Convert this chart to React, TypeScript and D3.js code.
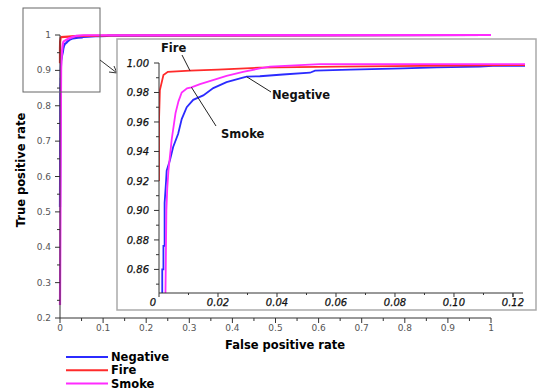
import React from 'react';
import * as d3 from 'd3';

// ROC curves
const negFpr = [0, 0.0011, 0.0011, 0.0015, 0.0015, 0.0019, 0.0019, 0.0024, 0.0026, 0.0037, 0.0048, 0.0065, 0.0077, 0.0094, 0.0116, 0.015, 0.0184, 0.0229, 0.0275, 0.0297, 0.0342, 0.042, 0.0512, 0.0529, 0.065, 0.0827, 0.0942, 0.1088, 0.1132, 1];
const negTpr = [0.514, 0.845, 0.86, 0.86, 0.876, 0.876, 0.905, 0.92, 0.927, 0.934, 0.943, 0.952, 0.962, 0.97, 0.975, 0.978, 0.983, 0.987, 0.9896, 0.9907, 0.991, 0.9922, 0.9934, 0.9948, 0.9955, 0.9964, 0.997, 0.9975, 0.998, 1];
const fireFpr = [0, 0, 0.0003, 0.0015, 0.003, 0.0105, 0.02, 0.034, 0.06, 0.1234, 1];
const fireTpr = [0.92, 0.961, 0.9816, 0.9918, 0.994, 0.9948, 0.9955, 0.9968, 0.9975, 0.9986, 1];
const smokeFpr = [0, 0.0022, 0.0025, 0.0028, 0.0032, 0.0043, 0.0056, 0.0066, 0.0077, 0.0095, 0.011, 0.0139, 0.0183, 0.0229, 0.0285, 0.0342, 0.0376, 0.0546, 0.1234, 1];
const smokeTpr = [0.237, 0.845, 0.9, 0.915, 0.927, 0.948, 0.966, 0.974, 0.98, 0.9828, 0.9835, 0.9857, 0.9884, 0.9912, 0.994, 0.9963, 0.9975, 0.9993, 0.9993, 1];

const seriesNames = ['Negative', 'Fire', 'Smoke'];
const seriesColors = ['#2b2bff', '#ff2b2b', '#ff2bff'];

const mainXTicks = [0, 0.1, 0.2, 0.3, 0.4, 0.5, 0.6, 0.7, 0.8, 0.9, 1];
const mainYTicks = [0.2, 0.3, 0.4, 0.5, 0.6, 0.7, 0.8, 0.9, 1];
const insetXTicks = [0, 0.02, 0.04, 0.06, 0.08, 0.1, 0.12];
const insetXLabels = ['0', '0.02', '0.04', '0.06', '0.08', '0.10', '0.12'];
const insetYTicks = [0.86, 0.88, 0.9, 0.92, 0.94, 0.96, 0.98, 1.0];

const W = 538;
const H = 392;
const bold = { fontFamily: 'DejaVu Sans, sans-serif', fontWeight: 'bold', fontSize: 11.5 };

const App = () => {
  const series = [
    { fpr: negFpr, tpr: negTpr },
    { fpr: fireFpr, tpr: fireTpr },
    { fpr: smokeFpr, tpr: smokeTpr },
  ];

  // main axes
  const x = d3.scaleLinear().domain([0, 1]).range([60, 491]);
  const y = d3.scaleLinear().domain([0.2, 1]).range([318, 35]);
  // inset axes
  const ix = d3.scaleLinear().domain([0, 0.1234]).range([159, 523]);
  const iy = d3.scaleLinear().domain([0.844, 1]).range([293, 63]);

  const mainLine = (s) =>
    d3.line<number>().x((d) => x(d)).y((d, i) => y(s.tpr[i]))(s.fpr);
  const insetLine = (s) =>
    d3.line<number>().x((d) => ix(d)).y((d, i) => iy(s.tpr[i]))(s.fpr);

  const order = [0, 1, 2];
  const minorX = d3.range(0, 1.0001, 0.05);
  const minorY = d3.range(0.2, 1.0001, 0.05);
  const insetMinorX = d3.range(0, 0.1234, 0.01);
  const insetMinorY = d3.range(0.85, 1.0001, 0.01);

  return (
    <div style={{ position: 'absolute', left: 0, top: 0 }}>
      <svg width={W} height={H} style={{ display: 'block', background: '#fff' }}>
        <defs>
          <clipPath id="insetClip">
            <rect x={159} y={60} width={366} height={233} />
          </clipPath>
        </defs>

        {/* main curves */}
        {order.map((k) => (
          <path key={k} d={mainLine(series[k])} fill="none" stroke={seriesColors[k]} strokeWidth={2.2} />
        ))}

        {/* main axes */}
        <g stroke="#333" strokeWidth={1}>
          <line x1={60} x2={60} y1={35} y2={318} />
          <line x1={60} x2={491} y1={318} y2={318} />
          {minorX.map((t, i) => (
            <line key={'mx' + i} x1={x(t)} x2={x(t)} y1={318} y2={i % 2 === 0 ? 323 : 321} />
          ))}
          {minorY.map((t, i) => (
            <line key={'my' + i} x1={60} x2={i % 2 === 0 ? 55 : 57} y1={y(t)} y2={y(t)} />
          ))}
        </g>
        <g fontFamily="DejaVu Sans, sans-serif" fontSize={9} fill="#555">
          {mainXTicks.map((t) => (
            <text key={t} x={x(t)} y={331} textAnchor="middle">{d3.format('~g')(t)}</text>
          ))}
          {mainYTicks.map((t) => (
            <text key={t} x={51} y={y(t) + 3} textAnchor="end">{d3.format('~g')(t)}</text>
          ))}
        </g>
        <text x={285} y={349} textAnchor="middle" {...bold}>False positive rate</text>
        <text transform="translate(25,170) rotate(-90)" textAnchor="middle" {...bold}>True positive rate</text>

        {/* zoom box and arrow */}
        <rect x={23} y={8} width={77} height={84} fill="none" stroke="#666" strokeWidth={1} />
        <g stroke="#333" strokeWidth={1} fill="none">
          <line x1={100} y1={60} x2={117} y2={73} />
          <polyline points="109,72 117,73 114,66" />
        </g>

        {/* inset */}
        <rect x={117} y={39} width={419} height={271} fill="#fff" stroke="#aaa" strokeWidth={1.5} />
        <g clipPath="url(#insetClip)">
          {order.map((k) => (
            <path key={k} d={insetLine(series[k])} fill="none" stroke={seriesColors[k]} strokeWidth={1.8} />
          ))}
        </g>
        <g stroke="#333" strokeWidth={1}>
          <line x1={159} x2={159} y1={63} y2={293} />
          <line x1={159} x2={523} y1={293} y2={293} />
          {insetMinorX.map((t, i) => (
            <line key={'ix' + i} x1={ix(t)} x2={ix(t)} y1={293} y2={i % 2 === 0 ? 297 : 295} />
          ))}
          <line x1={ix(0.12)} x2={ix(0.12)} y1={293} y2={297} />
          {insetMinorY.map((t, i) => (
            <line key={'iy' + i} x1={159} x2={i % 2 === 1 ? 154 : 156} y1={iy(t)} y2={iy(t)} />
          ))}
        </g>
        <g fontFamily="DejaVu Sans, sans-serif" fontStyle="italic" fontSize={10} fill="#111" stroke="#111" strokeWidth={0.25}>
          {insetXTicks.map((t, i) => (
            <text key={t} x={ix(t) - (i === 0 ? 6 : 0)} y={306} textAnchor="middle">{insetXLabels[i]}</text>
          ))}
          {insetYTicks.map((t) => (
            <text key={t} x={149} y={iy(t) + 4} textAnchor="end">{t.toFixed(2)}</text>
          ))}
        </g>

        {/* annotations */}
        <g stroke="#222" strokeWidth={1}>
          <line x1={182} y1={55} x2={ix(0.0105)} y2={iy(0.9948)} />
          <line x1={ix(0.011)} y1={iy(0.9835)} x2={216} y2={126} />
          <line x1={ix(0.0297)} y1={iy(0.9907)} x2={271} y2={92} />
        </g>
        <g {...bold} fill="#111">
          <text x={161} y={52}>Fire</text>
          <text x={221} y={138}>Smoke</text>
          <text x={272} y={99}>Negative</text>
        </g>

        {/* legend */}
        {seriesNames.map((name, i) => (
          <g key={name}>
            <line x1={66} x2={108} y1={357 + i * 13.3} y2={357 + i * 13.3} stroke={seriesColors[i]} strokeWidth={2} />
            <text x={111} y={361 + i * 13.3} {...bold}>{name}</text>
          </g>
        ))}
      </svg>
    </div>
  );
};

export default App;
